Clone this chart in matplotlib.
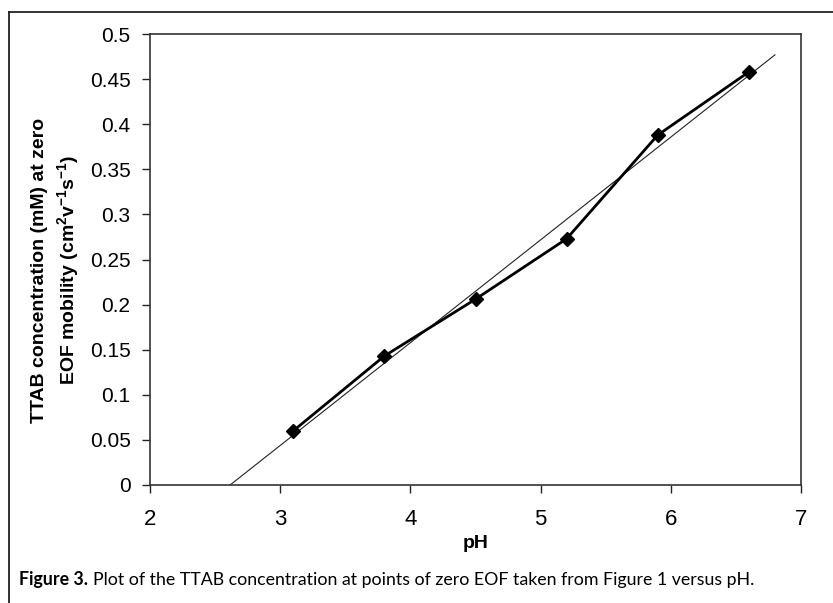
import numpy as np
import matplotlib
matplotlib.use("Agg")
import matplotlib.pyplot as plt
from matplotlib.lines import Line2D

plt.rcParams["mathtext.fontset"] = "custom"
plt.rcParams["mathtext.rm"] = "Liberation Sans:bold"
plt.rcParams["mathtext.it"] = "Liberation Sans:bold"
plt.rcParams["mathtext.bf"] = "Liberation Sans:bold"

# data
ph = [3.1, 3.8, 4.5, 5.2, 5.9, 6.6]
ttab = [0.060, 0.143, 0.206, 0.273, 0.388, 0.458]
trend_x_end = 6.8
x_ticks = [2, 3, 4, 5, 6, 7]
y_ticks = [0, 0.05, 0.1, 0.15, 0.2, 0.25, 0.3, 0.35, 0.4, 0.45, 0.5]
y_tick_labels = ["0", "0.05", "0.1", "0.15", "0.2", "0.25", "0.3", "0.35", "0.4", "0.45", "0.5"]

W, H = 833, 603
fig = plt.figure(figsize=(W / 100, H / 100), dpi=100)
ax = fig.add_axes([150 / W, 1 - 485 / H, (801 - 150) / W, (485 - 34) / H])

# linear trend line (least squares)
m, b = np.polyfit(ph, ttab, 1)
x0 = -b / m
ax.plot([x0, trend_x_end], [m * x0 + b, m * trend_x_end + b], color="#222222", lw=0.8)

ax.plot(ph, ttab, color="black", lw=2.0, marker="D", markersize=7,
        markerfacecolor="black", markeredgecolor="black")

ax.set_xlim(2, 7)
ax.set_ylim(0, 0.5)
ax.set_xticks(x_ticks)
ax.set_xticklabels([str(v) for v in x_ticks])
ax.set_yticks(y_ticks)
ax.set_yticklabels(y_tick_labels)

for lab in ax.get_xticklabels():
    lab.set_fontfamily("Liberation Sans")
    lab.set_fontsize(16)
for lab in ax.get_yticklabels():
    lab.set_fontfamily("Liberation Sans")
    lab.set_fontsize(15)

ax.tick_params(axis="x", direction="out", length=6, width=1, pad=11, colors="#222222",
               labelcolor="black")
ax.tick_params(axis="y", direction="out", length=6, width=1, pad=8, colors="#222222",
               labelcolor="black")
for s in ax.spines.values():
    s.set_linewidth(1.2)
    s.set_color("#333333")

ax.set_xlabel("pH", fontfamily="Liberation Sans", fontweight="bold", fontsize=14, labelpad=4)
fig.text(56 / W, 1 - 270 / H,
         "TTAB concentration (mM) at zero\nEOF mobility (cm$^{2}$v$^{-1}$s$^{-1}$)",
         rotation=90, ha="center", va="center", multialignment="center",
         fontfamily="Liberation Sans", fontweight="bold", fontsize=14, linespacing=1.4)

# outer frame lines
fig.add_artist(Line2D([9 / W, 1.0], [1 - 12 / H, 1 - 12 / H], transform=fig.transFigure,
                      color="#222222", lw=1.3))
fig.add_artist(Line2D([9 / W, 9 / W], [1 - 12 / H, 0.0], transform=fig.transFigure,
                      color="#222222", lw=1.3))

# caption
cap_y = 1 - 585 / H
t1 = fig.text(19 / W, cap_y, "Figure 3.", fontfamily="Lato", fontweight="bold",
              fontsize=12.8, ha="left", va="baseline")
fig.canvas.draw()
bb = t1.get_window_extent(renderer=fig.canvas.get_renderer())
fig.text((bb.x1 + 5) / W, cap_y,
         "Plot of the TTAB concentration at points of zero EOF taken from Figure 1 versus pH.",
         fontfamily="Lato", fontsize=12.8, ha="left", va="baseline")

fig.savefig("out.png", dpi=100)
